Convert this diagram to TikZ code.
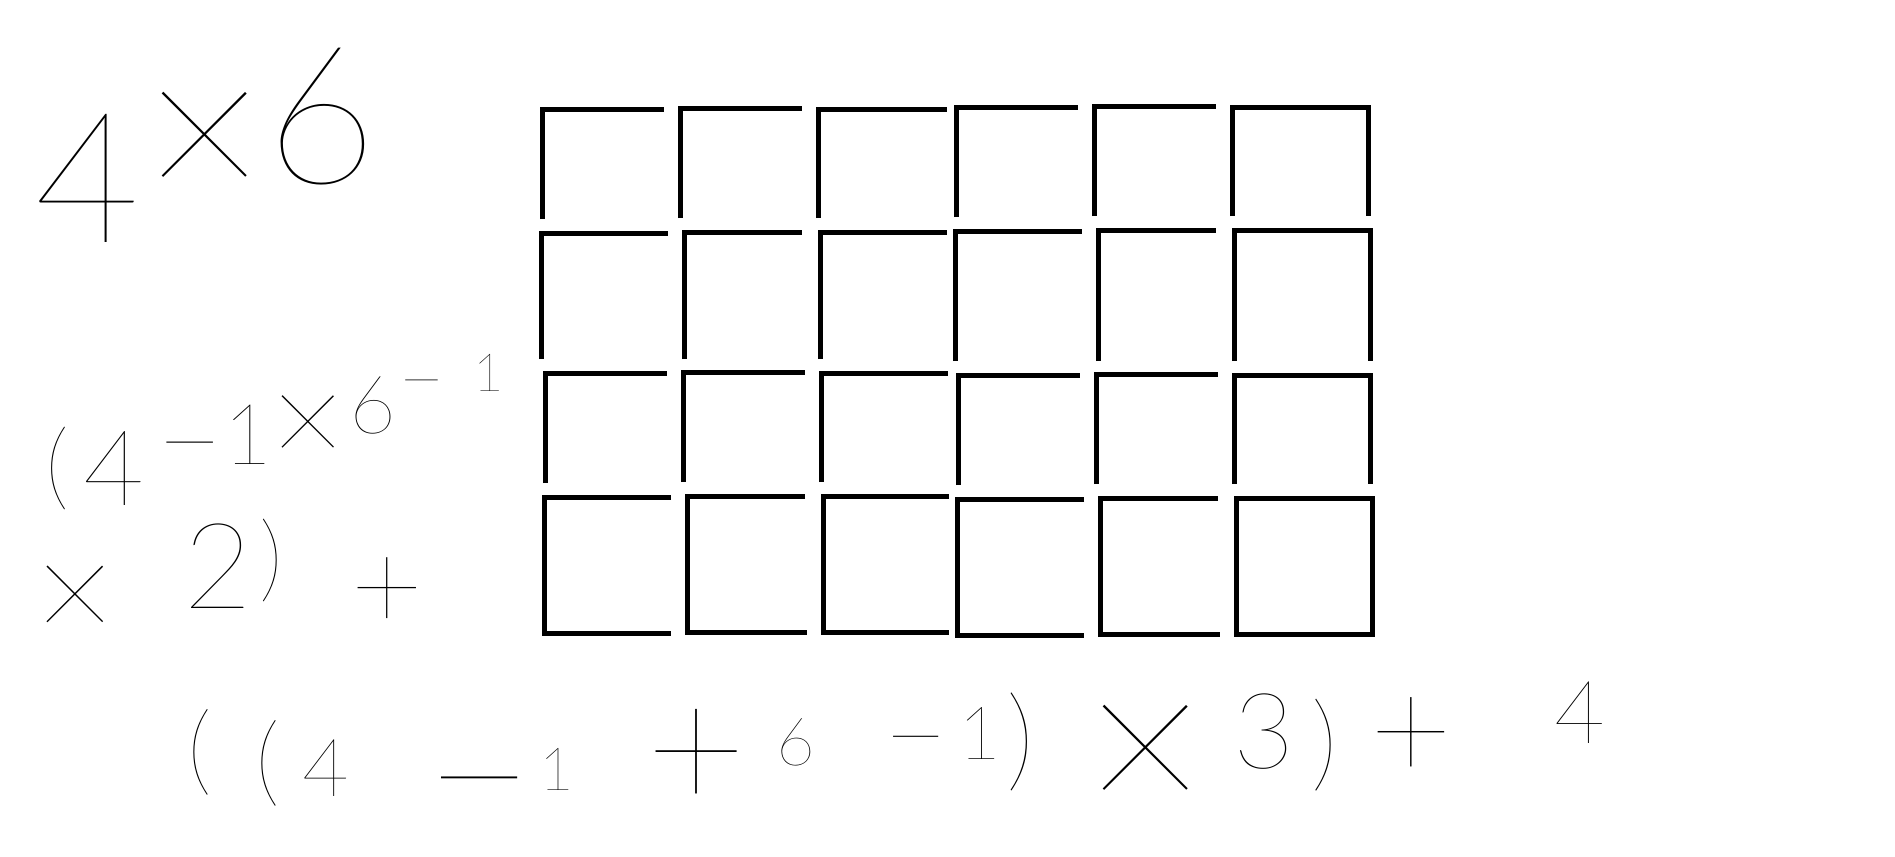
\documentclass[tikz,border=0pt]{standalone}
\usepackage{fontspec}
\usepackage{tikz}
\newfontfamily\handfont{Lato Hairline}
\tikzstyle{stick} = [draw=black, line width=1.37pt]
\tikzset{hw/.style={inner sep=0pt, font=\handfont\fontsize{#1}{#1}\selectfont}}

\begin{document}
\begin{tikzpicture}[x=0.01cm, y=-0.01cm]
        \useasboundingbox (0,0) rectangle (1895,856);
        \fill[white] (0,0) rectangle (1895,856);

        % open cells
        \foreach \x/\y/\xr/\yb in {542.5/109.3/664/219, 680.5/108.3/802/218, 818.4/109.3/947/218, 956.5/107.3/1078/217, 1094.5/106.3/1216/216,
                                   541.5/233.3/668/359, 684.5/232.3/802/359, 820.5/232.3/947/359, 955.5/231.3/1082/361, 1098.5/230.3/1216/361,
                                   545.5/373.3/667/483, 683.5/372.3/805/482, 821.5/373.3/948/482, 958.5/375.3/1080/485, 1096.5/374.3/1218/484}
            \draw[stick] (\x,\yb) -- (\x,\y) -- (\xr,\y);
        \foreach \x/\y/\xr/\yb in {1232.5/107.3/1368.5/216, 1234.5/230.3/1370.5/361, 1234.5/375.3/1370.5/484}
            \draw[stick] (\x,\yb) -- (\x,\y) -- (\xr,\y) -- (\xr,\yb);
        \foreach \x/\y/\xr/\yb/\xb in {544.5/497.3/671/633.5/671, 687.5/496.3/805/632.5/807, 823.5/496.3/949/632.5/949,
                                       957.5/499.3/1084/635.5/1084, 1100.5/498.3/1218/634.5/1220}
            \draw[stick] (\xr,\y) -- (\x,\y) -- (\x,\yb) -- (\xb,\yb);
        \draw[stick] (1236.5,498.3) rectangle (1372.5,634.5);

        % 4 x 6
        \foreach \x/\y/\s/\t/\n in {88/178/52/4/aa, 205/149/60/×/ab, 322/117/55/6/ac}
            \node[hw=\s] (\n) at (\x,\y) {\t};

        % (4-1 x 6-1  x 2) +
        \foreach \x/\y/\s/\t/\n in {57/468/27/(/ba, 114/468/30/4/bb, 190/462/33/−/bc, 248/435/24/1/bd, 308/431/37/×/be,
                                   373/405/23/6/bf, 422/394/23/−/bg, 489/373/15/1/bh,
                                   75/604/40/×/bi, 218/566/34/2/bj, 271/560/27/)/bk, 387/594/36/+/bl}
            \node[hw=\s] (\n) at (\x,\y) {\t};

        % ((4-1+6-1) x 3) + 4
        \foreach \x/\y/\s/\t/\n in {200/752/28/(/ca, 268/763/28/(/cb, 326/768/23/4/cc, 480/809/54/−/cd, 557/769/17/1/ce,
                                   696/760/50/+/cf, 796/742/19/6/cg, 916/755/32/−/ch, 980/733/21/1/ci, 1021/742/32/)/cj,
                                   1146/762/60/×/ck, 1264/732/30/3/cl, 1325/745/30/)/cm, 1411/739/41/+/cn, 1580/713/25/4/co}
            \node[hw=\s] (\n) at (\x,\y) {\t};
    \end{tikzpicture}
\end{document}
